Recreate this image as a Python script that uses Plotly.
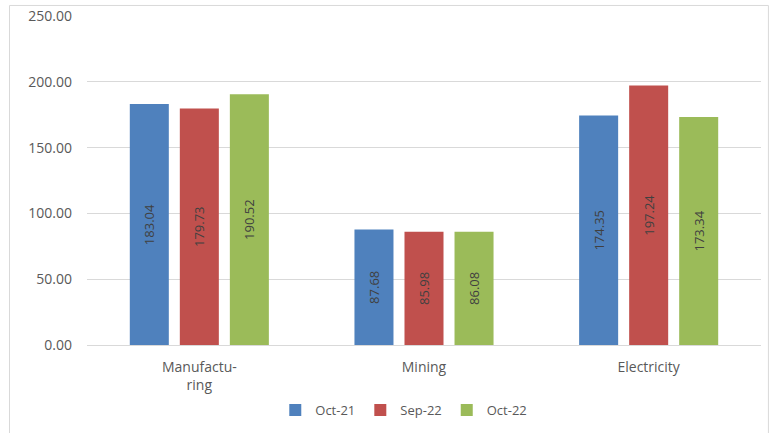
import plotly.graph_objects as go

categories = ["Manufactu-<br>ring", "Mining", "Electricity"]
series_names = ["Oct-21", "Sep-22", "Oct-22"]
oct21 = [183.04, 87.68, 174.35]
sep22 = [179.73, 85.98, 197.24]
oct22 = [190.52, 86.08, 173.34]
colors = ["#4F81BD", "#C0504D", "#9BBB59"]
y_ticks = [0, 50, 100, 150, 200, 250]

FONT = "Open Sans, Lato, sans-serif"

fig = go.Figure()
for name, vals, col in zip(series_names, [oct21, sep22, oct22], colors):
    fig.add_trace(go.Bar(
        x=categories, y=vals, name=name,
        marker=dict(color=col, line=dict(width=0)),
        text=[f"{v:.2f}" for v in vals],
        textposition="inside", insidetextanchor="middle",
        textangle=-90, constraintext="none",
        textfont=dict(family=FONT, size=13, color="#404040"),
    ))

fig.update_layout(
    width=769, height=433,
    margin=dict(l=87, r=8, t=16, b=88, autoexpand=False),
    paper_bgcolor="white", plot_bgcolor="white",
    barmode="group", bargap=0.332, bargroupgap=0.22,
    font=dict(family=FONT, size=13, color="#595959"),
    showlegend=True,
    legend=dict(orientation="h", x=0.47, xanchor="center", y=-0.198, yanchor="middle",
                font=dict(size=13, color="#595959"), itemwidth=30,
                traceorder="normal"),
)
fig.update_yaxes(range=[0, 250], tickvals=y_ticks, tickformat=".2f",
                 showgrid=True, gridcolor="#D9D9D9", gridwidth=1,
                 zeroline=False, showline=False, ticks="", automargin=False,
                 ticklabelstandoff=14, tickfont=dict(size=14, color="#595959"))
fig.update_xaxes(showline=True, linecolor="#D9D9D9", linewidth=1, ticks="",
                 automargin=False, ticklabelstandoff=9,
                 range=[-0.5, 2.5], tickfont=dict(size=14, color="#595959"))

# chart border
fig.add_shape(type="rect", xref="paper", yref="paper",
              x0=-0.115, x1=1.011, y0=-0.30, y1=1.032,
              line=dict(color="#D9D9D9", width=1), fillcolor="rgba(0,0,0,0)", layer="below")

fig.write_html("out.html", config={"displayModeBar": False},
               post_script="document.body.style.margin='0';")
